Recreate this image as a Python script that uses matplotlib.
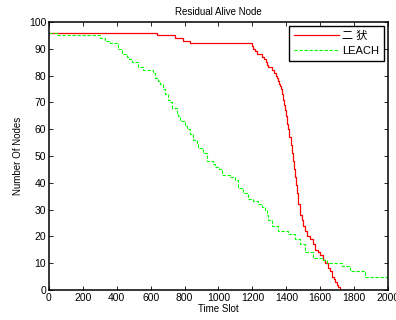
import numpy as np
import matplotlib
matplotlib.use('Agg')
import matplotlib.pyplot as plt

plt.rcParams['font.family'] = ['Liberation Sans', 'Noto Sans CJK SC', 'DejaVu Sans']

# proposed scheme (red, solid)
prop_t = [0, 635, 745, 790, 830, 1197, 1205, 1215, 1225, 1257, 1270, 1280, 1288, 1295,
          1318, 1328, 1338, 1345, 1350, 1356, 1362, 1367, 1372, 1378, 1385, 1392, 1398,
          1404, 1410, 1418, 1426, 1434, 1441, 1447, 1452, 1458, 1465, 1472, 1481, 1490,
          1500, 1510, 1525, 1540, 1555, 1570, 1585, 1600, 1618, 1630, 1648, 1660, 1670,
          1680, 1690, 1700, 1708, 1715, 2000]
prop_n = [96, 95, 94, 93, 92, 91, 90, 89, 88, 87, 86, 85, 84, 83,
          82, 81, 80, 79, 78, 77, 76, 75, 73, 71, 69, 67, 65,
          62, 60, 57, 54, 51, 48, 45, 42, 39, 36, 32, 28, 26,
          24, 22, 20, 19, 17, 15, 14, 13, 11, 10, 8, 7, 5,
          4, 3, 2, 1, 0, 0]

# LEACH (green, dashed)
leach_t = [0, 45, 301, 330, 360, 409, 430, 458, 470, 488, 527, 555, 615, 625, 645, 655,
           674, 684, 704, 714, 724, 753, 763, 773, 802, 816, 832, 851, 871, 881, 910,
           930, 969, 979, 1003, 1019, 1068, 1097, 1117, 1147, 1176, 1205, 1235, 1255,
           1274, 1284, 1294, 1314, 1353, 1412, 1451, 1481, 1510, 1560, 1618, 1640,
           1727, 1776, 1864, 2000]
leach_n = [96, 95, 94, 93, 92, 90, 88, 87, 86, 85, 83, 82, 81, 79, 78, 77,
           75, 73, 71, 70, 68, 66, 65, 63, 61, 60, 58, 56, 55, 53, 51,
           48, 47, 46, 45, 43, 42, 41, 38, 36, 34, 33, 32, 31,
           30, 28, 26, 24, 22, 21, 19, 17, 14, 12, 11, 10,
           9, 7, 5, 5]

labels = ['二 犾', 'LEACH']

fig = plt.figure(figsize=(3.96, 3.2), dpi=100)
ax = fig.add_axes([0.1237, 0.094, 0.856, 0.8375])

ax.plot(prop_t, prop_n, color='#ff0000', lw=0.9, drawstyle='steps-post', label=labels[0])
ax.plot(leach_t, leach_n, color='#00ff00', lw=0.8, ls=(0, (3, 1.5)),
        drawstyle='steps-post', label=labels[1])

ax.set_xlim(0, 2000)
ax.set_ylim(0, 100)
ax.set_xticks(np.arange(0, 2001, 200))
ax.set_yticks(np.arange(0, 101, 10))
ax.tick_params(direction='in', top=True, right=True, labelsize=7.5, length=3, width=0.6, pad=2)
for s in ax.spines.values():
    s.set_linewidth(1.1)

ax.set_title('Residual Alive Node', fontsize=7, pad=5)
ax.set_xlabel('Time Slot', fontsize=7, labelpad=1)
ax.set_ylabel('Number Of Nodes', fontsize=7, labelpad=4)

leg = ax.legend(loc='upper right', fontsize=8, fancybox=False, framealpha=1,
                edgecolor='black', handlelength=4.0, borderaxespad=0.35,
                labelspacing=0.45, handletextpad=0.3, borderpad=0.45)
leg.get_frame().set_linewidth(1.0)

fig.savefig('out.png', dpi=100)
